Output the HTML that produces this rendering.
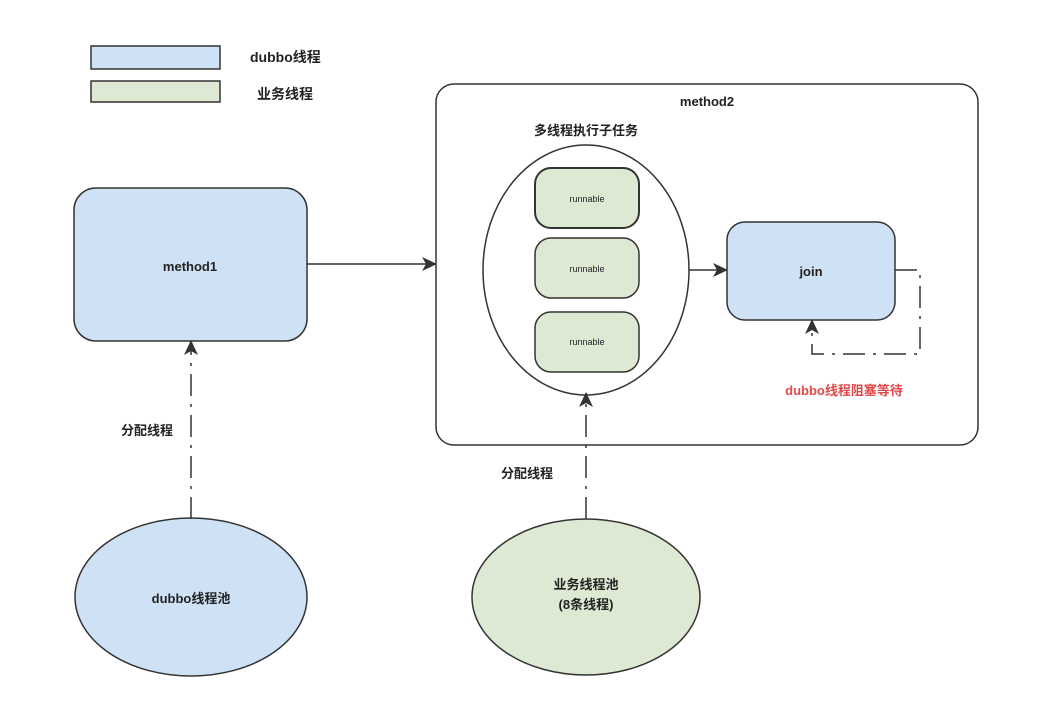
<!DOCTYPE html>
<html><head><meta charset="utf-8"><style>
html,body{margin:0;padding:0;background:#fff;}
svg{display:block;}
text{font-family:"Liberation Sans","Noto Sans CJK SC",sans-serif;font-weight:bold;fill:#222;}
</style></head><body>
<svg width="1048" height="726" viewBox="0 0 1048 726" xmlns="http://www.w3.org/2000/svg">
<defs>
<marker id="a" markerWidth="16" markerHeight="16" refX="14" refY="8" orient="auto" markerUnits="userSpaceOnUse">
<path d="M0,1 L15,8 L0,15 L4,8 z" fill="#333"/></marker>
</defs>
<g stroke="#333" stroke-width="1.5">
<rect x="91" y="46" width="129" height="23" fill="#cfe2f5"/>
<rect x="91" y="81" width="129" height="21" fill="#dde9d3"/>
<rect x="74" y="188" width="233" height="153" rx="22" fill="#cfe2f5"/>
<rect x="436" y="84" width="542" height="361" rx="18" fill="#fff"/>
<ellipse cx="586" cy="270" rx="103" ry="125" fill="#fff"/>
<rect x="535" y="168" width="104" height="60" rx="16" fill="#dde9d3" stroke-width="2"/>
<rect x="535" y="238" width="104" height="60" rx="16" fill="#dde9d3"/>
<rect x="535" y="312" width="104" height="60" rx="16" fill="#dde9d3"/>
<rect x="727" y="222" width="168" height="98" rx="18" fill="#cfe2f5"/>
<ellipse cx="191" cy="597" rx="116" ry="79" fill="#cfe2f5"/>
<ellipse cx="586" cy="597" rx="114" ry="78" fill="#dde9d3"/>
<line x1="307" y1="264" x2="436" y2="264" marker-end="url(#a)" fill="none"/>
<line x1="689" y1="270" x2="727" y2="270" marker-end="url(#a)" fill="none"/>
<path d="M895 270 H920 V354 H812 V320" fill="none" stroke-dasharray="22,8,3,8" marker-end="url(#a)"/>
<line x1="191" y1="519" x2="191" y2="341" stroke-dasharray="22,8,3,8" marker-end="url(#a)"/>
<line x1="586" y1="519" x2="586" y2="393" stroke-dasharray="22,8,3,8" marker-end="url(#a)"/>
</g>
<text x="250" y="62" font-size="14">dubbo线程</text>
<text x="257" y="99" font-size="14">业务线程</text>
<text x="190" y="271" font-size="13" text-anchor="middle">method1</text>
<text x="707" y="106" font-size="13" text-anchor="middle">method2</text>
<text x="586" y="135" font-size="13" text-anchor="middle">多线程执行子任务</text>
<text x="587" y="202" font-size="9" text-anchor="middle" style="font-weight:normal">runnable</text>
<text x="587" y="272" font-size="9" text-anchor="middle" style="font-weight:normal">runnable</text>
<text x="587" y="345" font-size="9" text-anchor="middle" style="font-weight:normal">runnable</text>
<text x="811" y="276" font-size="13" text-anchor="middle">join</text>
<text x="844" y="395" font-size="13" text-anchor="middle" style="fill:#e0484a">dubbo线程阻塞等待</text>
<text x="147" y="435" font-size="13" text-anchor="middle">分配线程</text>
<text x="527" y="478" font-size="13" text-anchor="middle">分配线程</text>
<text x="191" y="603" font-size="13" text-anchor="middle">dubbo线程池</text>
<text x="586" y="589" font-size="13" text-anchor="middle">业务线程池</text>
<text x="586" y="609" font-size="13" text-anchor="middle">(8条线程)</text>
</svg>
</body></html>
